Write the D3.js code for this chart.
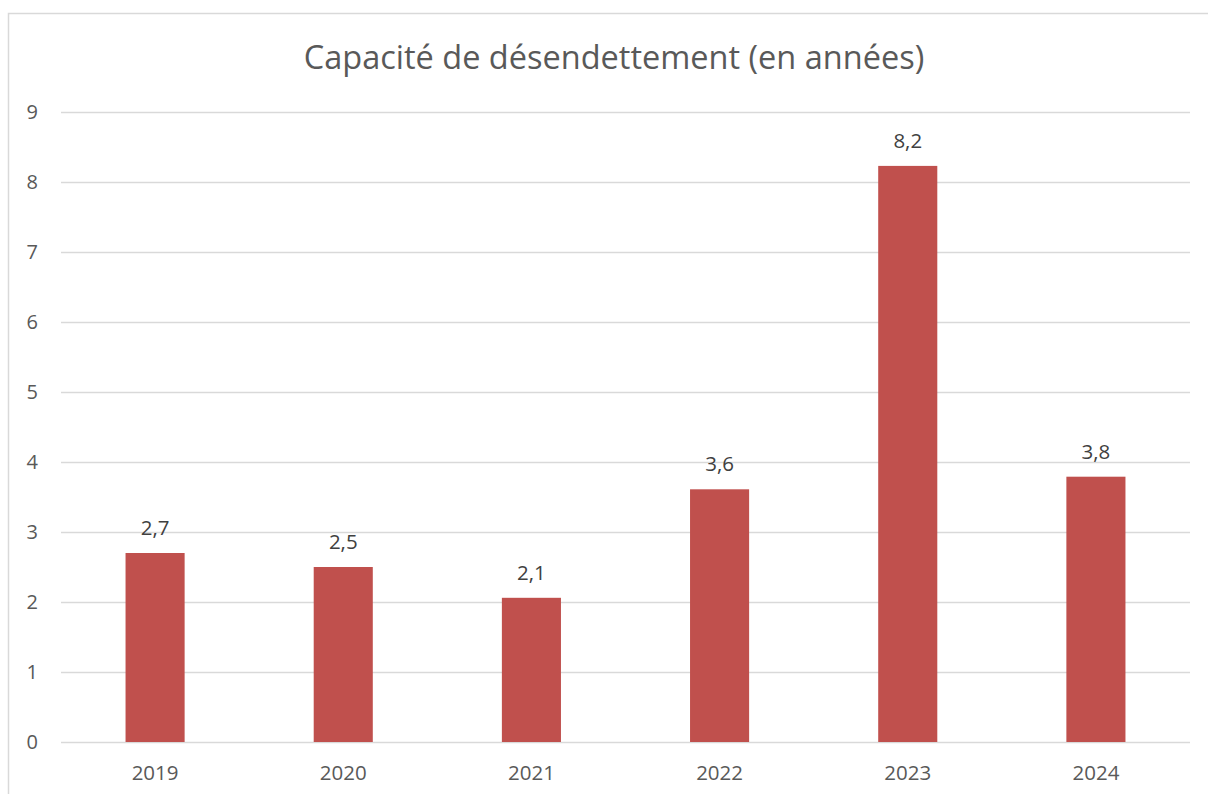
<!DOCTYPE html>
<html>
<head>
<meta charset="utf-8">
<script src="https://cdn.jsdelivr.net/npm/d3@7"></script>
<style>
  body { margin: 0; background: #fff; }
  text { font-family: "Open Sans", "Noto Sans", sans-serif; }
</style>
</head>
<body>
<div id="chart"></div>
<script>
const years = ["2019", "2020", "2021", "2022", "2023", "2024"]
const values = [2.7, 2.5, 2.06, 3.61, 8.23, 3.79]
const valueLabels = ["2,7", "2,5", "2,1", "3,6", "8,2", "3,8"]
const yTicks = [0, 1, 2, 3, 4, 5, 6, 7, 8, 9]

const W = 1208, H = 794
const plot = { left: 61, right: 1190, top: 112, bottom: 742 }

const svg = d3.select("#chart").append("svg")
  .attr("width", W).attr("height", H)

// chart frame (only left and top edges show in the crop)
svg.append("rect")
  .attr("x", 8.5).attr("y", 13.5)
  .attr("width", 1260).attr("height", 820)
  .attr("fill", "none").attr("stroke", "#d9d9d9").attr("stroke-width", 1.5)

svg.append("text")
  .attr("x", 614).attr("y", 69)
  .attr("text-anchor", "middle")
  .attr("fill", "#595959")
  .style("font-size", "32.5px")
  .text("Capacité de désendettement (en années)")

const y = d3.scaleLinear().domain([0, 9]).range([plot.bottom, plot.top])
const x = d3.scaleBand().domain(years)
  .range([plot.left, plot.right])
  .paddingInner(0.686).paddingOuter(0.343)

// gridlines
svg.append("g")
  .attr("transform", `translate(${plot.left},0)`)
  .call(d3.axisLeft(y).tickValues(yTicks).tickSize(-(plot.right - plot.left)).tickFormat(""))
  .call(g => g.select(".domain").remove())
  .call(g => g.selectAll("line").attr("stroke", "#d9d9d9").attr("stroke-width", 1.5))

// y labels
svg.append("g")
  .selectAll("text").data(yTicks).enter().append("text")
  .attr("x", 38).attr("y", d => y(d)).attr("dy", "0.35em")
  .attr("text-anchor", "end")
  .attr("fill", "#595959")
  .style("font-size", "20px")
  .text(d => d)

// bars
svg.append("g").selectAll("rect").data(values).enter().append("rect")
  .attr("x", (d, i) => x(years[i]))
  .attr("y", d => y(d))
  .attr("width", x.bandwidth())
  .attr("height", d => y(0) - y(d))
  .attr("fill", "#c0504d")

// value labels
svg.append("g").selectAll("text").data(values).enter().append("text")
  .attr("x", (d, i) => x(years[i]) + x.bandwidth() / 2)
  .attr("y", d => y(d) - 18)
  .attr("text-anchor", "middle")
  .attr("fill", "#404040")
  .style("font-size", "20.5px")
  .text((d, i) => valueLabels[i])

// x labels
svg.append("g").selectAll("text").data(years).enter().append("text")
  .attr("x", d => x(d) + x.bandwidth() / 2)
  .attr("y", 780)
  .attr("text-anchor", "middle")
  .attr("fill", "#595959")
  .style("font-size", "20.5px")
  .text(d => d)
</script>
</body>
</html>
